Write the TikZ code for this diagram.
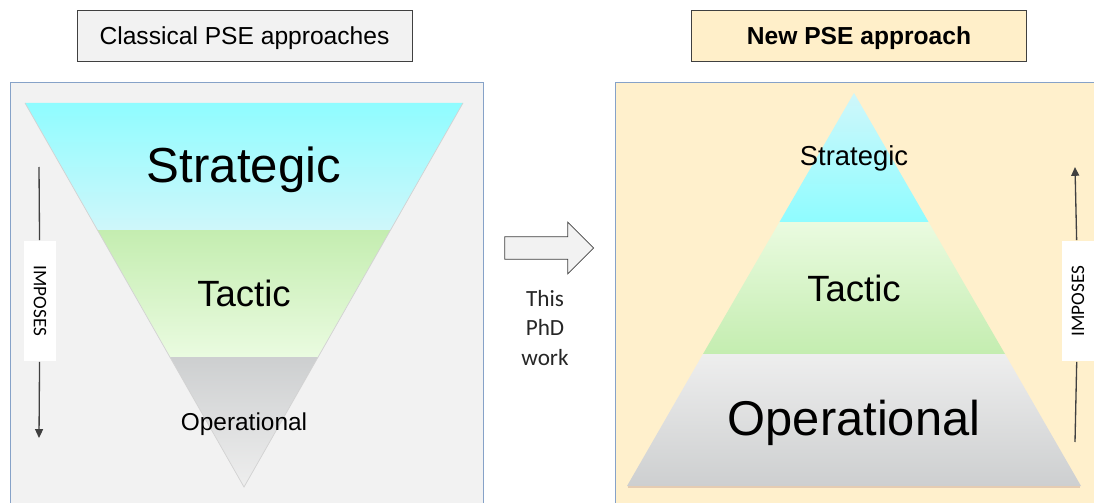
\documentclass[tikz,border=0pt]{standalone}
\usepackage{fontspec}
\setmainfont{Liberation Sans}
\newfontfamily\calib{Carlito}
\usetikzlibrary{shapes.arrows,arrows.meta}
\definecolor{panelgray}{HTML}{F2F2F2}
\definecolor{panelcream}{HTML}{FFF0CC}
\definecolor{titlecream}{HTML}{FFEFC9}
\definecolor{panelline}{HTML}{86A2C8}
\definecolor{cyanhi}{HTML}{8FFCFF}
\definecolor{cyanlo}{HTML}{CFF7FA}
\definecolor{greenhi}{HTML}{C4EDB0}
\definecolor{greenlo}{HTML}{EAFBE0}
\definecolor{grayhi}{HTML}{CDCFD0}
\definecolor{graylo}{HTML}{EEEEEE}
\definecolor{inkgray}{HTML}{404040}

\begin{document}
\begin{tikzpicture}[x=0.02cm, y=-0.02cm]
	\tikzstyle{title} = [ draw=inkgray, rectangle, minimum width=6.7cm, minimum height=1.02cm, text depth=0pt, font={\fontsize{14}{17}\selectfont} ];
	\tikzstyle{level} = [ anchor=base, inner sep=0pt ];
	\tikzstyle{imposes} = [ fill=white, minimum width=2.42cm, minimum height=0.66cm, inner sep=0pt, font={\calib\fontsize{10.9}{13}\selectfont} ];
	\tikzstyle{pointer} = [ inkgray, line width=0.75pt ];
	\tikzstyle{tip} = [ pointer, -{Triangle[length=5pt, width=4.5pt]} ];

	\useasboundingbox (0,0) rectangle (1094,503);
	\clip (0,0) rectangle (1094,503);

	\draw[panelline, fill=panelgray] (10,82) rectangle (483,520);
	\draw[panelline, fill=panelcream] (615,82) rectangle (1110,520);

	\node[title, fill=panelgray] (classic) at (244.5,35.5) {Classical PSE approaches};
	\node[title, fill=titlecream, font={\fontsize{14}{17}\selectfont\bfseries}] (new) at (859,35.5) {New PSE approach};

	\shade[top color=cyanhi, bottom color=cyanlo] (25,103) -- (463,103) -- (390.6,230) -- (97.4,230) -- cycle;
	\shade[top color=greenhi, bottom color=greenlo] (97.4,230) -- (390.6,230) -- (318,357) -- (170,357) -- cycle;
	\shade[top color=grayhi, bottom color=graylo] (170,357) -- (318,357) -- (244,487) -- cycle;
	\draw[gray!35] (25,103) -- (244,487) -- (463,103);

	\node[level, font={\fontsize{28}{34}\selectfont}] (lstrat) at (244,182) {Strategic};
	\node[level, font={\fontsize{20.8}{25}\selectfont}] (ltact) at (244,306) {Tactic};
	\node[level, font={\fontsize{13.9}{17}\selectfont}] (loper) at (244,430) {Operational};

	\shade[top color=cyanlo, bottom color=cyanhi] (854,93) -- (928.5,222) -- (779.5,222) -- cycle;
	\shade[top color=greenlo, bottom color=greenhi] (779.5,222) -- (928.5,222) -- (1005,354) -- (703,354) -- cycle;
	\shade[top color=graylo, bottom color=grayhi] (703,354) -- (1005,354) -- (1081,486) -- (627,486) -- cycle;
	\draw[brown!40, line width=1pt] (628,487) -- (1080,487);

	\node[level, font={\fontsize{15.6}{19}\selectfont}] (rstrat) at (854,166) {Strategic};
	\node[level, font={\fontsize{20.8}{25}\selectfont}] (rtact) at (854,301) {Tactic};
	\node[level, font={\fontsize{27.8}{33}\selectfont}] (roper) at (854,435) {Operational};

	\coordinate (ltop) at (39,167);
	\coordinate (lbot) at (39,438);
	\node[imposes, rotate=-90] (limp) at (40,301) {IMPOSES};
	\draw[pointer] (ltop) -- (limp);
	\draw[tip] (limp) -- (lbot);

	\coordinate (rbot) at (1075,442);
	\coordinate (rtop) at (1075,167);
	\node[imposes, rotate=90] (rimp) at (1078,301) {IMPOSES};
	\draw[pointer] (rbot) -- (rimp);
	\draw[tip] (rimp) -- (rtop);

	\node[single arrow, draw=inkgray, fill=panelgray, inner xsep=0pt, inner ysep=0.22cm, single arrow head extend=0.29cm, minimum height=1.78cm] (move) at (543.5,248) {};
	\node[align=center, text=black!85, font={\calib\fontsize{13.2}{17}\selectfont}] (phd) at (545,328) {This\\PhD\\work};
\end{tikzpicture}
\end{document}
